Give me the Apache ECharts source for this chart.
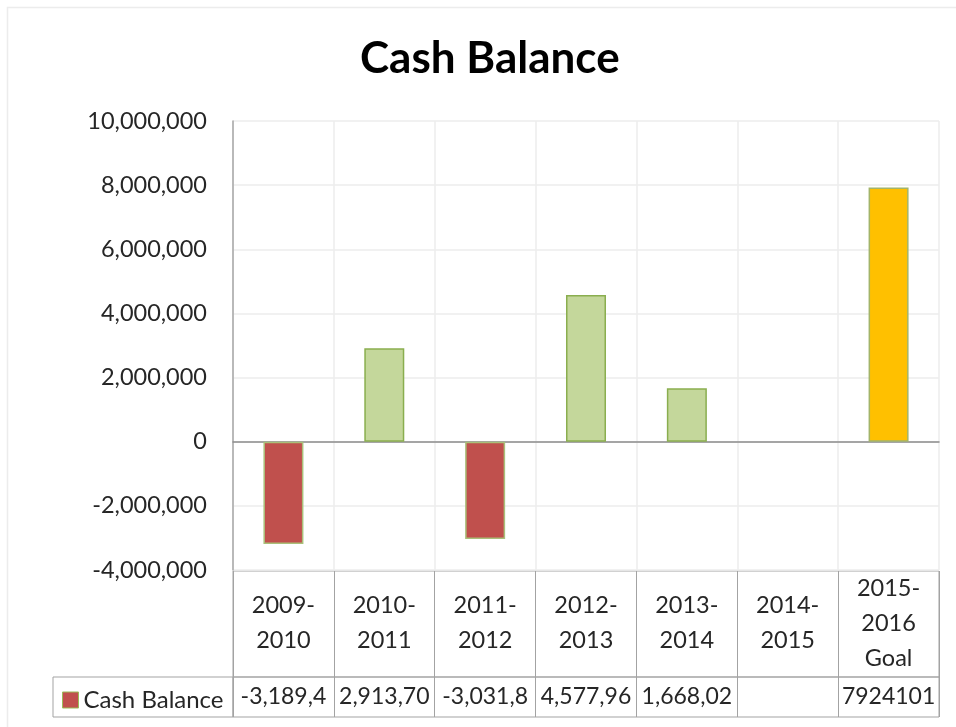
<!DOCTYPE html>
<html>
<head>
<meta charset="utf-8">
<script src="https://cdn.jsdelivr.net/npm/echarts@6/dist/echarts.min.js"></script>
<style>
html,body{margin:0;padding:0;background:#fff;}
#c{width:956px;height:727px;}
</style>
</head>
<body>
<div id="c"></div>
<script>
var categories = ['2009-2010', '2010-2011', '2011-2012', '2012-2013', '2013-2014', '2014-2015', '2015-2016 Goal'];
var cashBalance = [-3189400, 2913700, -3031800, 4577960, 1668020, null, 7924101];
var goalIndex = 6;
var yTicks = { min: -4000000, max: 10000000, interval: 2000000 };
var seriesName = 'Cash Balance';

var FONT = 'Lato';
var TXT = '#262626';
var TABLE_LINE = '#a3a3a3';
var GRID_LINE = '#ededed';

function withCommas(n) {
  var s = String(Math.abs(n)).replace(/\B(?=(\d{3})+(?!\d))/g, ',');
  return (n < 0 ? '-' : '') + s;
}
function catLabel(v) {
  return v.replace('-', '-\n').replace(' ', '\n');
}
function tableValue(v, i) {
  var val = cashBalance[i];
  if (val === null || val === undefined) return '';
  return i === goalIndex ? String(val) : withCommas(val);
}

var barData = cashBalance.map(function (v, i) {
  var fill = i === goalIndex ? '#FFC000' : (v < 0 ? '#C0504D' : '#C4D79B');
  var border = v < 0 ? '#A9C07A' : (i === goalIndex ? '#A3B46A' : '#8AAE4F');
  return { value: v, itemStyle: { color: fill, borderColor: border, borderWidth: 1.5 } };
});

var chart = echarts.init(document.getElementById('c'), null, { renderer: 'canvas' });
chart.setOption({
  animation: false,
  backgroundColor: '#fff',
  graphic: [{
    type: 'rect', silent: true,
    shape: { x: 7.5, y: 7.5, width: 960, height: 730 },
    style: { fill: 'none', stroke: '#ececec', lineWidth: 1.5 }
  }],
  title: {
    text: 'Cash Balance',
    left: 355, top: 32,
    textStyle: { fontFamily: FONT, fontSize: 44, fontWeight: 'bold', color: '#000' }
  },
  legend: {
    left: 62, top: 688, padding: 0,
    icon: 'rect', itemWidth: 16, itemHeight: 16,
    selectedMode: false,
    textStyle: { fontFamily: FONT, fontSize: 24, color: TXT },
    data: [{ name: seriesName, itemStyle: { color: '#C0504D', borderColor: '#9BBB59', borderWidth: 1 } }]
  },
  grid: [
    { left: 233, right: 17, top: 121, bottom: 157 },
    { left: 233, right: 17, top: 571, height: 106, show: true, borderColor: TABLE_LINE, borderWidth: 1 },
    { left: 233, right: 17, top: 677, height: 40, show: true, borderColor: TABLE_LINE, borderWidth: 1 },
    { left: 53, width: 180, top: 677, height: 40, show: true, borderColor: TABLE_LINE, borderWidth: 1 }
  ],
  xAxis: [
    {
      gridIndex: 0, type: 'category', data: categories,
      axisLine: { onZero: true, lineStyle: { color: '#8c8c8c', width: 1.5 } },
      axisTick: { show: false }, axisLabel: { show: false },
      splitLine: { show: true, interval: 0, lineStyle: { color: GRID_LINE, width: 1.5 } }
    },
    {
      gridIndex: 1, type: 'category', data: categories, position: 'top',
      axisLine: { show: false }, axisTick: { show: false },
      axisLabel: {
        inside: true, interval: 0, margin: 52, verticalAlign: 'middle',
        lineHeight: 35, fontFamily: FONT, fontSize: 23.5, color: TXT,
        formatter: catLabel
      },
      splitLine: { show: true, interval: 0, lineStyle: { color: TABLE_LINE, width: 1 } }
    },
    {
      gridIndex: 2, type: 'category', data: categories, position: 'top',
      axisLine: { show: false }, axisTick: { show: false },
      axisLabel: {
        inside: true, interval: 0, margin: 20, verticalAlign: 'middle',
        fontFamily: FONT, fontSize: 23, color: TXT,
        width: 98, overflow: 'truncate', ellipsis: '',
        formatter: tableValue
      },
      splitLine: { show: true, interval: 0, lineStyle: { color: TABLE_LINE, width: 1 } }
    },
    { gridIndex: 3, type: 'category', data: [''], show: false }
  ],
  yAxis: [
    {
      gridIndex: 0, type: 'value',
      min: yTicks.min, max: yTicks.max, interval: yTicks.interval,
      axisLine: { show: true, lineStyle: { color: '#a6a6a6', width: 1.5 } },
      axisTick: { show: false },
      axisLabel: { margin: 26, fontFamily: FONT, fontSize: 23.5, color: TXT, formatter: function (v) { return withCommas(v); } },
      splitLine: { show: true, lineStyle: { color: GRID_LINE, width: 1.5 } }
    },
    { gridIndex: 1, type: 'value', show: false },
    { gridIndex: 2, type: 'value', show: false },
    { gridIndex: 3, type: 'value', show: false }
  ],
  series: [{
    name: seriesName, type: 'bar', xAxisIndex: 0, yAxisIndex: 0,
    barWidth: 40, data: barData
  }]
});
</script>
</body>
</html>
